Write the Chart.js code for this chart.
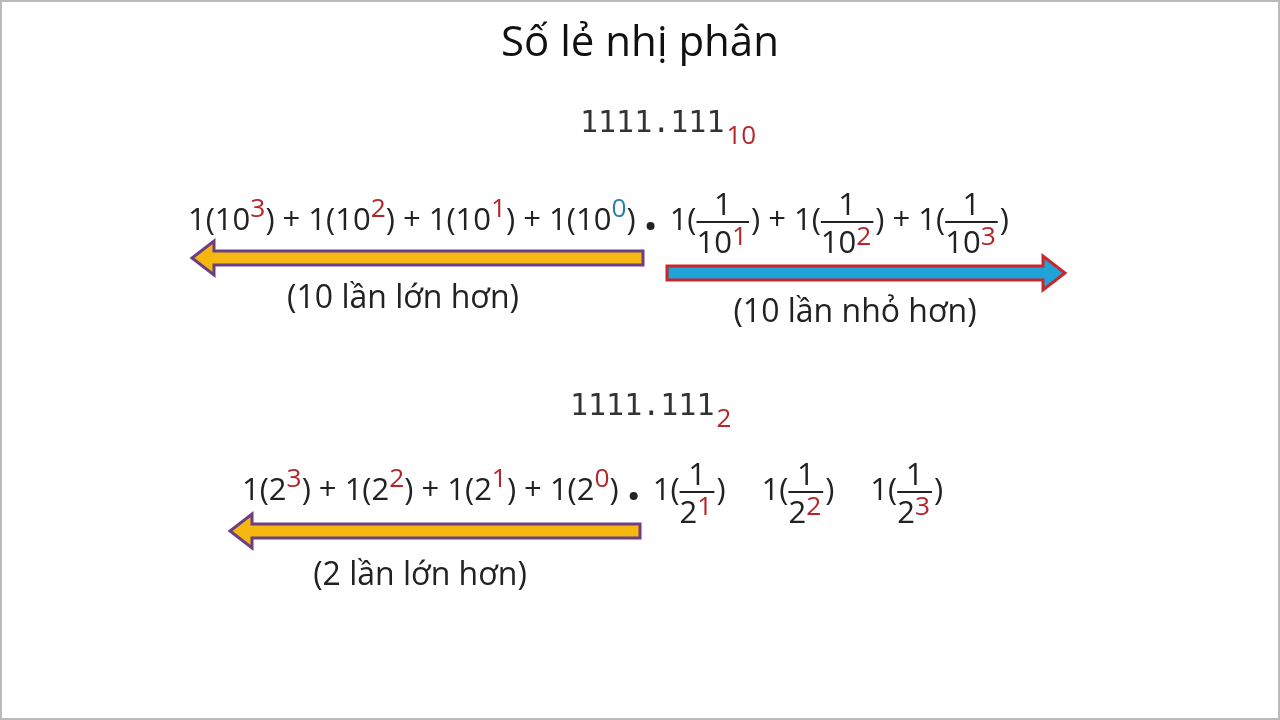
<!DOCTYPE html>
<html>
<head>
<meta charset="utf-8">
<script src="https://cdn.jsdelivr.net/npm/chart.js@4.4.1/dist/chart.umd.min.js"></script>
<style>
  html, body { margin: 0; padding: 0; background: #fff; }
  #wrap { width: 1280px; height: 720px; }
</style>
</head>
<body>
<div id="wrap"><canvas id="slide"></canvas></div>
<script>
// slide content
const title = 'Số lẻ nhị phân';
const numbers = ['1111.111', '1111.111'];
const bases = ['10', '2'];
const powersLeft = ['3', '2', '1', '0'];
const powersRight = ['1', '2', '3'];
const arrowLabels = ['(10 lần lớn hơn)', '(10 lần nhỏ hơn)', '(2 lần lớn hơn)'];

const RED = '#b5252a', BLUE = '#2a7fa8', INK = '#222';
const FONT = '"Open Sans", "Liberation Sans", sans-serif';
const MONO = '"DejaVu Sans Mono", monospace';

// draw a row of tokens starting at x (pixel), baseline y
function drawRow(ctx, tokens, x, y, size) {
  ctx.textBaseline = 'alphabetic';
  ctx.textAlign = 'left';
  tokens.forEach(tk => {
    if (tk.gap !== undefined) { x += tk.gap; return; }
    if (tk.frac) {
      ctx.font = size + 'px ' + FONT;
      ctx.fillStyle = INK;
      const dw = ctx.measureText(tk.den).width;
      ctx.font = size * 0.85 + 'px ' + FONT;
      const sw = ctx.measureText(tk.sup).width;
      const w = dw + sw + 2;
      ctx.font = size + 'px ' + FONT;
      ctx.textAlign = 'center';
      ctx.fillText('1', x + w / 2, y - 15);
      ctx.textAlign = 'left';
      ctx.fillRect(x, y - 9, w, 2);
      ctx.fillText(tk.den, x, y + 23);
      ctx.font = size * 0.85 + 'px ' + FONT;
      ctx.fillStyle = RED;
      ctx.fillText(tk.sup, x + dw, y + 15);
      x += w + 2;
      return;
    }
    if (tk.dot) {
      ctx.fillStyle = INK;
      ctx.beginPath();
      ctx.arc(x + 9, y - 4, 4, 0, Math.PI * 2);
      ctx.fill();
      x += 20;
      return;
    }
    if (tk.sup !== undefined) {
      ctx.font = size * 0.85 + 'px ' + FONT;
      ctx.fillStyle = tk.color || RED;
      ctx.fillText(tk.sup, x, y - 13);
      x += ctx.measureText(tk.sup).width;
      return;
    }
    ctx.font = size + 'px ' + FONT;
    ctx.fillStyle = INK;
    ctx.fillText(tk.t, x, y);
    x += ctx.measureText(tk.t).width;
  });
}

function arrow(ctx, x0, x1, y, fill, stroke) {
  const dir = Math.sign(x1 - x0), h = 7, head = 22, hh = 17;
  ctx.beginPath();
  ctx.moveTo(x0, y - h);
  ctx.lineTo(x1 - dir * head, y - h);
  ctx.lineTo(x1 - dir * head, y - hh);
  ctx.lineTo(x1, y);
  ctx.lineTo(x1 - dir * head, y + hh);
  ctx.lineTo(x1 - dir * head, y + h);
  ctx.lineTo(x0, y + h);
  ctx.closePath();
  ctx.fillStyle = fill; ctx.fill();
  ctx.lineWidth = 3; ctx.strokeStyle = stroke; ctx.stroke();
}

function buildRow(base, tenStyle) {
  const toks = [];
  powersLeft.forEach((p, i) => {
    toks.push({ t: (i ? ') + ' : '') + '1(' + base });
    toks.push({ sup: p, color: p === '0' && tenStyle ? BLUE : RED });
  });
  toks.push({ t: ')' });
  toks.push({ gap: 6 }); toks.push({ dot: true });
  powersRight.forEach((p, i) => {
    if (i) {
      if (tenStyle) toks.push({ t: ') + ' });
      else toks.push({ t: ')' }, { gap: 36 });
    }
    toks.push({ t: (i === 0 ? ' ' : '') + '1(' });
    toks.push({ frac: true, den: base, sup: p });
  });
  toks.push({ t: ')' });
  return toks;
}

const slidePlugin = {
  id: 'slide',
  afterDraw(chart) {
    const ctx = chart.ctx, xs = chart.scales.x, ys = chart.scales.y;
    const X = v => xs.getPixelForValue(v), Y = v => ys.getPixelForValue(v);
    ctx.save();
    ctx.strokeStyle = '#bbb'; ctx.lineWidth = 2;
    ctx.strokeRect(X(0) + 1, Y(0) + 1, X(1280) - X(0) - 2, Y(720) - Y(0) - 2);

    ctx.textAlign = 'center'; ctx.textBaseline = 'alphabetic';
    ctx.fillStyle = '#111';
    ctx.font = '42px ' + FONT;
    ctx.fillText(title, X(640), Y(56));

    [[122, 0, 580], [405, 1, 570]].forEach(([yy, i, x0]) => {
      ctx.textAlign = 'left';
      ctx.font = '30px ' + MONO;
      ctx.fillStyle = '#333';
      ctx.fillText(numbers[i], X(x0), Y(yy + 10));
      const w = ctx.measureText(numbers[i]).width;
      ctx.font = '26px ' + FONT;
      ctx.fillStyle = RED;
      ctx.fillText(bases[i], X(x0 + w + 2), Y(yy + 22));
    });

    drawRow(ctx, buildRow('10', true), X(188), Y(230), 31);
    drawRow(ctx, buildRow('2', false), X(242), Y(500), 31);

    arrow(ctx, X(643), X(192), Y(258), '#f6b80f', '#6b3f86');
    arrow(ctx, X(667), X(1065), Y(273), '#1fa3d8', '#c8282c');
    arrow(ctx, X(640), X(230), Y(531), '#f6b80f', '#6b3f86');

    ctx.textAlign = 'center'; ctx.fillStyle = INK;
    ctx.font = '32px ' + FONT;
    ctx.fillText(arrowLabels[0], X(403), Y(308));
    ctx.fillText(arrowLabels[1], X(855), Y(322));
    ctx.fillText(arrowLabels[2], X(420), Y(585));
    ctx.restore();
  }
};

new Chart(document.getElementById('slide'), {
  type: 'scatter',
  data: { datasets: [{ data: [] }] },
  options: {
    responsive: true, maintainAspectRatio: false, animation: false,
    layout: { padding: 0 },
    plugins: { legend: { display: false }, tooltip: { enabled: false } },
    scales: {
      x: { display: false, min: 0, max: 1280 },
      y: { display: false, min: 0, max: 720, reverse: true }
    }
  },
  plugins: [slidePlugin]
});
</script>
</body>
</html>
